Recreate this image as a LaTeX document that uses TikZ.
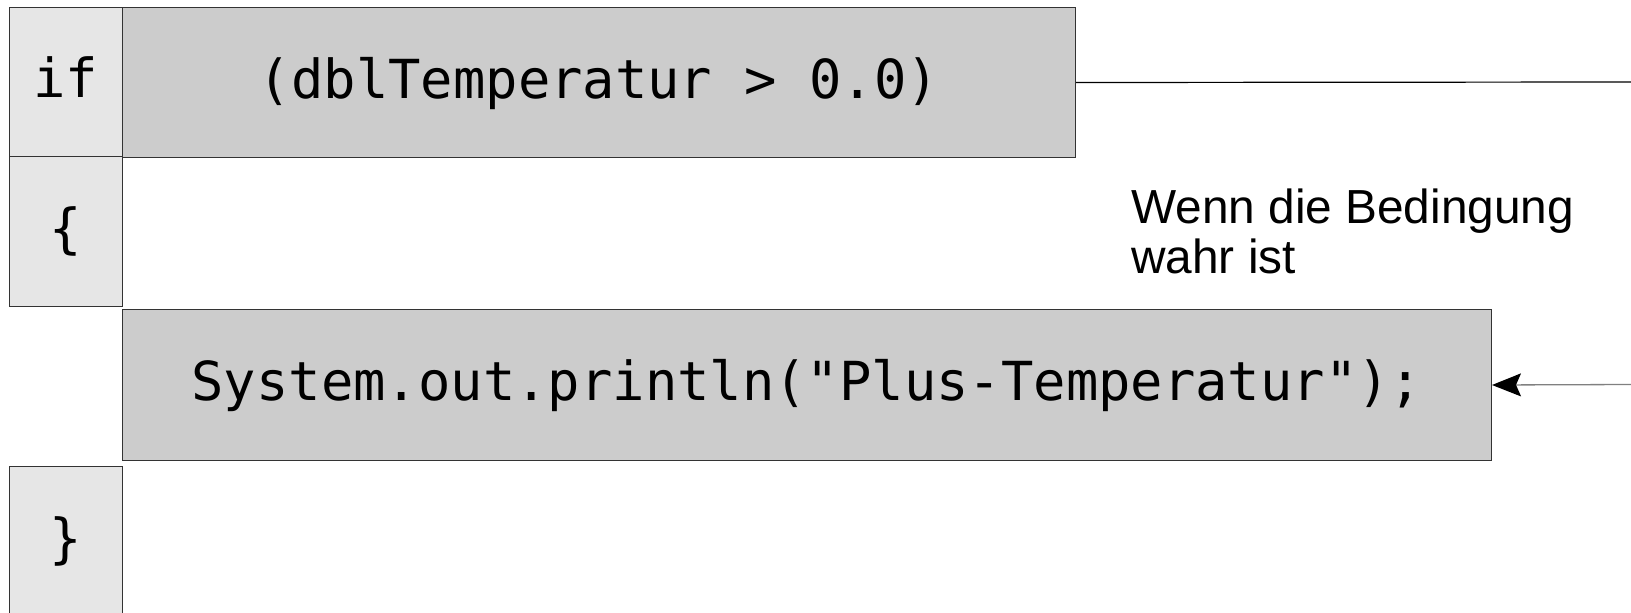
\documentclass[tikz,border=0pt]{standalone}
\usepackage{fontspec}
\setmainfont{Liberation Sans}
\setmonofont{DejaVu Sans Mono}
\usetikzlibrary{arrows.meta}
\definecolor{kwfill}{HTML}{E6E6E6}
\definecolor{exfill}{HTML}{CCCCCC}
\definecolor{edge}{HTML}{333333}
\begin{document}
\begin{tikzpicture}[x=1pt,y=-1pt,
  codebox/.style={draw=edge, line width=1pt, inner sep=0pt, anchor=north west,
    text height=37pt, text depth=6pt,
    font=\fontsize{53.8}{60}\selectfont\ttfamily},
  kwbox/.style={codebox, fill=kwfill, minimum width=113pt, minimum height=150pt},
  exbox/.style={codebox, fill=exfill, minimum height=150pt},
  note/.style={inner sep=0pt, align=left, font=\fontsize{47.8}{50}\selectfont}]
\useasboundingbox (0,0) rectangle (1631,613);

% keyword column
\node (kif)   [kwbox, minimum height=149pt] at (9,7)   {if};
\node (open)  [kwbox] at (9,156)  {\{};
\node (close) [kwbox] at (9,466)  {\}};

% condition and body statement
\node (cond) [exbox, minimum width=953pt] at (122,7) {(dblTemperatur > 0.0)};
\node (stmt) [exbox, minimum width=1369pt, minimum height=151pt] at (122,309)
  {System.out.println("Plus-Temperatur");};

% branch taken when the condition holds
\coordinate (out) at (1631,82);
\coordinate (back) at (1631,384.5);
\draw[line width=1.2pt, black] (cond.east) -- (out);
\draw[line width=1.3pt, draw=gray,
  -{Stealth[length=29pt, width=23pt, inset=5pt, color=black]}] (back) -- (stmt.east);

% base of a multi-line node is the baseline of its last line
\node (lbl) [note, anchor=base west] at (1131,273) {Wenn die Bedingung\\wahr ist};
\end{tikzpicture}
\end{document}
